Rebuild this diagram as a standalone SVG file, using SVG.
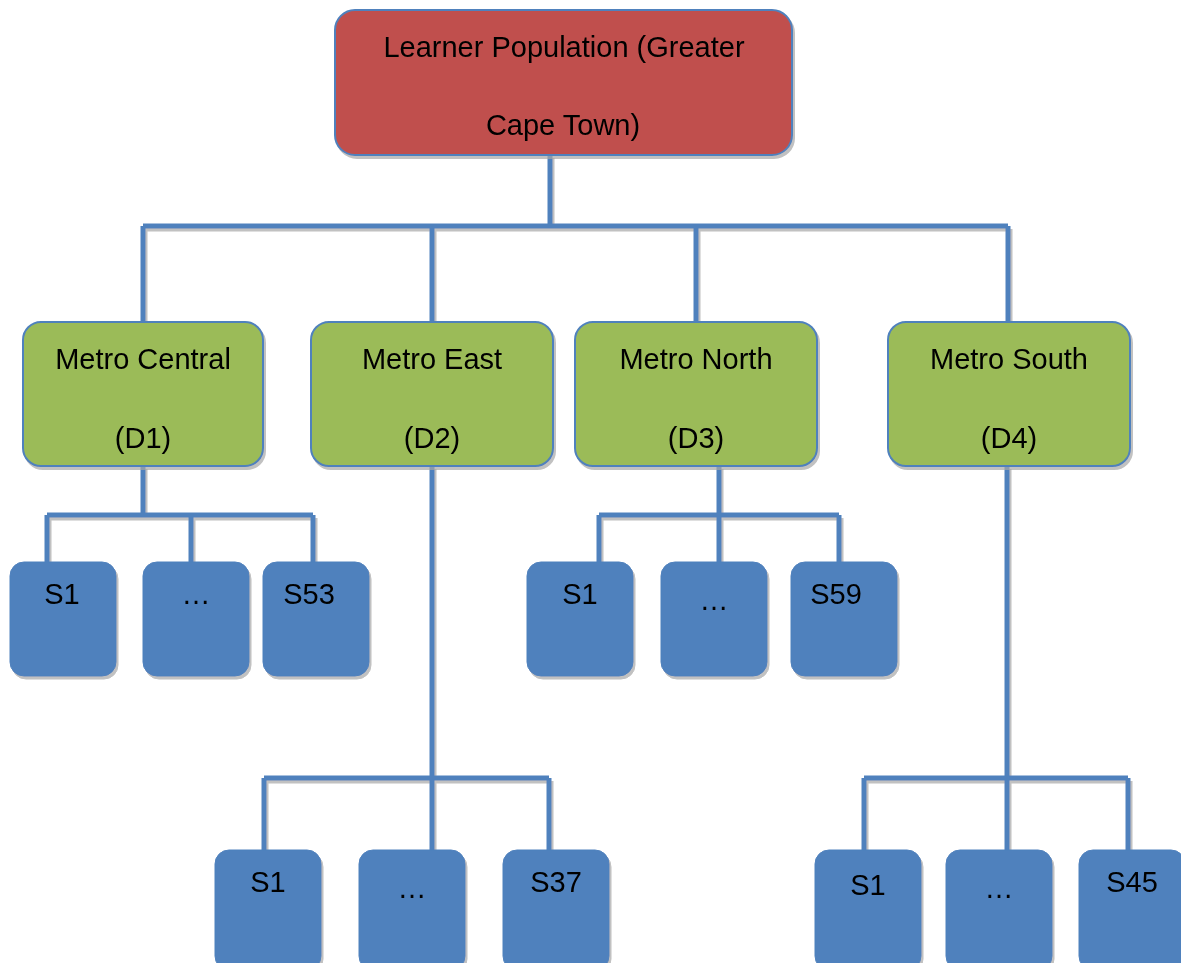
<svg xmlns="http://www.w3.org/2000/svg" width="1181" height="963" viewBox="0 0 1181 963">
  <defs>
    <filter id="shadow" x="-10%" y="-10%" width="130%" height="130%">
      <feOffset in="SourceAlpha" dx="2" dy="3" result="off"/>
      <feFlood flood-color="#a6a6a6" flood-opacity="0.7"/>
      <feComposite in2="off" operator="in" result="sh"/>
      <feMerge><feMergeNode in="sh"/><feMergeNode in="SourceGraphic"/></feMerge>
    </filter>
  </defs>
  <style>
    .root { fill: #C0504D; stroke: #4F81BD; stroke-width: 2; }
    .district { fill: #9BBB59; stroke: #4F81BD; stroke-width: 2; }
    .school { fill: #4F81BD; stroke: #4F81BD; stroke-width: 1; }
    .link { fill: none; stroke: #4F81BD; stroke-width: 5; }
    text { font-family: "Liberation Sans", Arial, sans-serif; font-size: 29px; fill: #000; text-anchor: middle; }
  </style>

  <!-- connectors -->
  <g id="connectors" filter="url(#shadow)">
    <path class="link" d="M550 155 V226 M143 226 H1008 M143 226 V322 M432 226 V322 M696 226 V322 M1008 226 V322"/>
    <path class="link" d="M143 466 V515 M47 515 H313 M47 515 V562 M191 515 V562 M313 515 V562"/>
    <path class="link" d="M719 466 V515 M599 515 H839 M599 515 V562 M719 515 V562 M839 515 V562"/>
    <path class="link" d="M432 466 V778 M264 778 H549 M264 778 V850 M432 778 V850 M549 778 V850"/>
    <path class="link" d="M1007 466 V778 M864 778 H1128 M864 778 V850 M1007 778 V850 M1128 778 V850"/>
  </g>

  <!-- root -->
  <g id="root" filter="url(#shadow)">
    <rect class="root" x="335" y="10" width="457" height="145" rx="20"/>
    <text x="564" y="57">Learner Population (Greater</text>
    <text x="563" y="135">Cape Town)</text>
  </g>

  <!-- districts -->
  <g id="d1" filter="url(#shadow)">
    <rect class="district" x="23" y="322" width="240" height="144" rx="18"/>
    <text x="143" y="369">Metro Central</text>
    <text x="143" y="448">(D1)</text>
  </g>
  <g id="d2" filter="url(#shadow)">
    <rect class="district" x="311" y="322" width="242" height="144" rx="18"/>
    <text x="432" y="369">Metro East</text>
    <text x="432" y="448">(D2)</text>
  </g>
  <g id="d3" filter="url(#shadow)">
    <rect class="district" x="575" y="322" width="242" height="144" rx="18"/>
    <text x="696" y="369">Metro North</text>
    <text x="696" y="448">(D3)</text>
  </g>
  <g id="d4" filter="url(#shadow)">
    <rect class="district" x="888" y="322" width="242" height="144" rx="18"/>
    <text x="1009" y="369">Metro South</text>
    <text x="1009" y="448">(D4)</text>
  </g>

  <!-- schools, D1 -->
  <g id="d1-s1" filter="url(#shadow)">
    <rect class="school" x="10" y="562" width="106" height="114" rx="14"/>
    <text x="62" y="604">S1</text>
  </g>
  <g id="d1-more" filter="url(#shadow)">
    <rect class="school" x="143" y="562" width="106" height="114" rx="14"/>
    <text x="196" y="604">…</text>
  </g>
  <g id="d1-s53" filter="url(#shadow)">
    <rect class="school" x="263" y="562" width="106" height="114" rx="14"/>
    <text x="309" y="604">S53</text>
  </g>

  <!-- schools, D3 -->
  <g id="d3-s1" filter="url(#shadow)">
    <rect class="school" x="527" y="562" width="106" height="114" rx="14"/>
    <text x="580" y="604">S1</text>
  </g>
  <g id="d3-more" filter="url(#shadow)">
    <rect class="school" x="661" y="562" width="106" height="114" rx="14"/>
    <text x="714" y="610">…</text>
  </g>
  <g id="d3-s59" filter="url(#shadow)">
    <rect class="school" x="791" y="562" width="106" height="114" rx="14"/>
    <text x="836" y="604">S59</text>
  </g>

  <!-- schools, D2 -->
  <g id="d2-s1" filter="url(#shadow)">
    <rect class="school" x="215" y="850" width="106" height="120" rx="14"/>
    <text x="268" y="892">S1</text>
  </g>
  <g id="d2-more" filter="url(#shadow)">
    <rect class="school" x="359" y="850" width="106" height="120" rx="14"/>
    <text x="412" y="898">…</text>
  </g>
  <g id="d2-s37" filter="url(#shadow)">
    <rect class="school" x="503" y="850" width="106" height="120" rx="14"/>
    <text x="556" y="892">S37</text>
  </g>

  <!-- schools, D4 -->
  <g id="d4-s1" filter="url(#shadow)">
    <rect class="school" x="815" y="850" width="106" height="120" rx="14"/>
    <text x="868" y="895">S1</text>
  </g>
  <g id="d4-more" filter="url(#shadow)">
    <rect class="school" x="946" y="850" width="106" height="120" rx="14"/>
    <text x="999" y="898">…</text>
  </g>
  <g id="d4-s45" filter="url(#shadow)">
    <rect class="school" x="1079" y="850" width="106" height="120" rx="14"/>
    <text x="1132" y="892">S45</text>
  </g>
</svg>
